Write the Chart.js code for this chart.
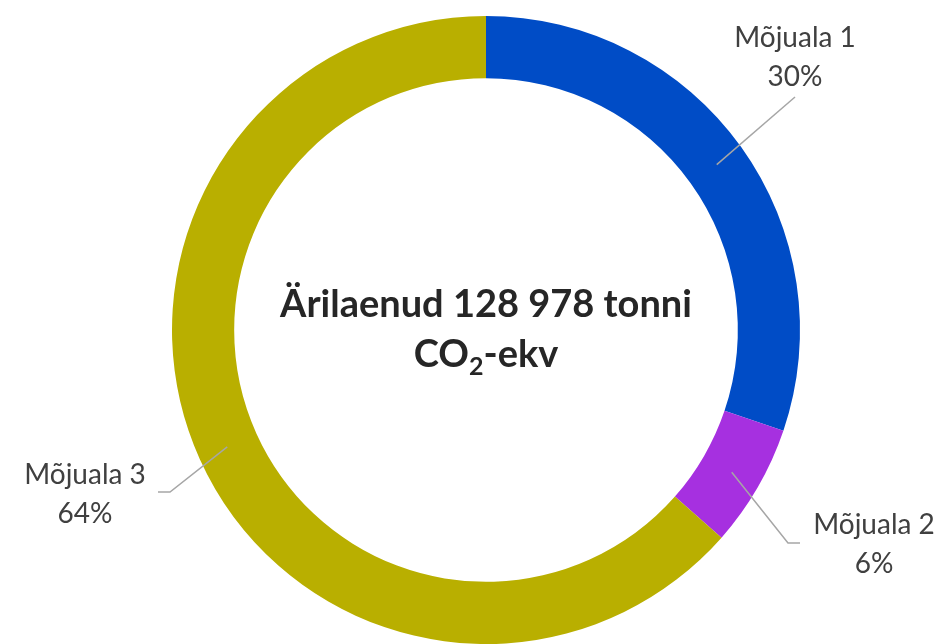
<!DOCTYPE html>
<html>
<head>
<meta charset="utf-8">
<script src="https://cdn.jsdelivr.net/npm/chart.js@4/dist/chart.umd.min.js"></script>
<style>
  html, body { margin: 0; padding: 0; background: #ffffff; }
  #wrap { width: 942px; height: 644px; position: relative; }
</style>
</head>
<body>
<div id="wrap"><canvas id="c" width="942" height="644"></canvas></div>
<script>
const categories = ["Mõjuala 1", "Mõjuala 2", "Mõjuala 3"];
const shares = [30.2, 6.3, 63.5];
const colors = ["#004CC6", "#A630E0", "#B9AF00"];
const centerTitle = "Ärilaenud 128 978 tonni";
const centerUnit = ["CO", "2", "-ekv"];

const total = shares.reduce((a, b) => a + b, 0);
const pctLabels = shares.map(v => Math.round(v / total * 100) + "%");

const labelPlugin = {
  id: "labels",
  afterDatasetsDraw(chart) {
    const ctx = chart.ctx;
    const meta = chart.getDatasetMeta(0);
    // leader end / elbow offsets from the centre, and text anchors
    const layout = [
      { ex: 309, ey: -233, hx: 0, tx: 795, ty: 38 },
      { ex: 302, ey: 213, hx: 12, tx: 874, ty: 525 },
      { ex: -316, ey: 162, hx: -12, tx: 85, ty: 475 }
    ];
    meta.data.forEach((arc, i) => {
      const p = arc.getProps(["x", "y", "startAngle", "endAngle", "innerRadius", "outerRadius"], true);
      const mid = (p.startAngle + p.endAngle) / 2;
      const r0 = (p.innerRadius + p.outerRadius) / 2 + 1;
      const L = layout[i];
      const sx = p.x + Math.cos(mid) * r0, sy = p.y + Math.sin(mid) * r0;
      const ex = p.x + L.ex, ey = p.y + L.ey;
      ctx.save();
      ctx.strokeStyle = "#A6A6A6";
      ctx.lineWidth = 1.5;
      ctx.beginPath();
      ctx.moveTo(sx, sy);
      ctx.lineTo(ex, ey);
      if (L.hx) ctx.lineTo(ex + L.hx, ey);
      ctx.stroke();
      ctx.fillStyle = "#404040";
      ctx.font = "28px Lato, 'Open Sans', sans-serif";
      ctx.textAlign = "center";
      ctx.textBaseline = "middle";
      ctx.fillText(categories[i], L.tx, L.ty);
      ctx.fillText(pctLabels[i], L.tx, L.ty + 39);
      ctx.restore();
    });

    // center text
    const cx = (chart.chartArea.left + chart.chartArea.right) / 2;
    const cy = (chart.chartArea.top + chart.chartArea.bottom) / 2;
    ctx.save();
    ctx.fillStyle = "#262626";
    ctx.textBaseline = "alphabetic";
    ctx.textAlign = "left";
    const fBig = "bold 38px Lato, 'Open Sans', sans-serif";
    const fSmall = "bold 25px Lato, 'Open Sans', sans-serif";
    ctx.font = fBig;
    const w1 = ctx.measureText(centerTitle).width;
    ctx.fillText(centerTitle, cx - w1 / 2, cy - 13);
    ctx.font = fBig; const a = ctx.measureText(centerUnit[0]).width;
    ctx.font = fSmall; const b = ctx.measureText(centerUnit[1]).width;
    ctx.font = fBig; const c = ctx.measureText(centerUnit[2]).width;
    let x = cx - (a + b + c) / 2;
    const by = cy + 37;
    ctx.font = fBig; ctx.fillText(centerUnit[0], x, by); x += a;
    ctx.font = fSmall; ctx.fillText(centerUnit[1], x, by + 8); x += b;
    ctx.font = fBig; ctx.fillText(centerUnit[2], x, by);
    ctx.restore();
  }
};

new Chart(document.getElementById("c"), {
  type: "doughnut",
  data: {
    labels: categories,
    datasets: [{
      data: shares,
      backgroundColor: colors,
      borderWidth: 0,
      hoverOffset: 0
    }]
  },
  options: {
    responsive: false,
    animation: false,
    cutout: "80.2%",
    rotation: 0,
    layout: { padding: { top: 16, bottom: 0, left: 172, right: 142 } },
    plugins: {
      legend: { display: false },
      tooltip: { enabled: false }
    }
  },
  plugins: [labelPlugin]
});
</script>
</body>
</html>
